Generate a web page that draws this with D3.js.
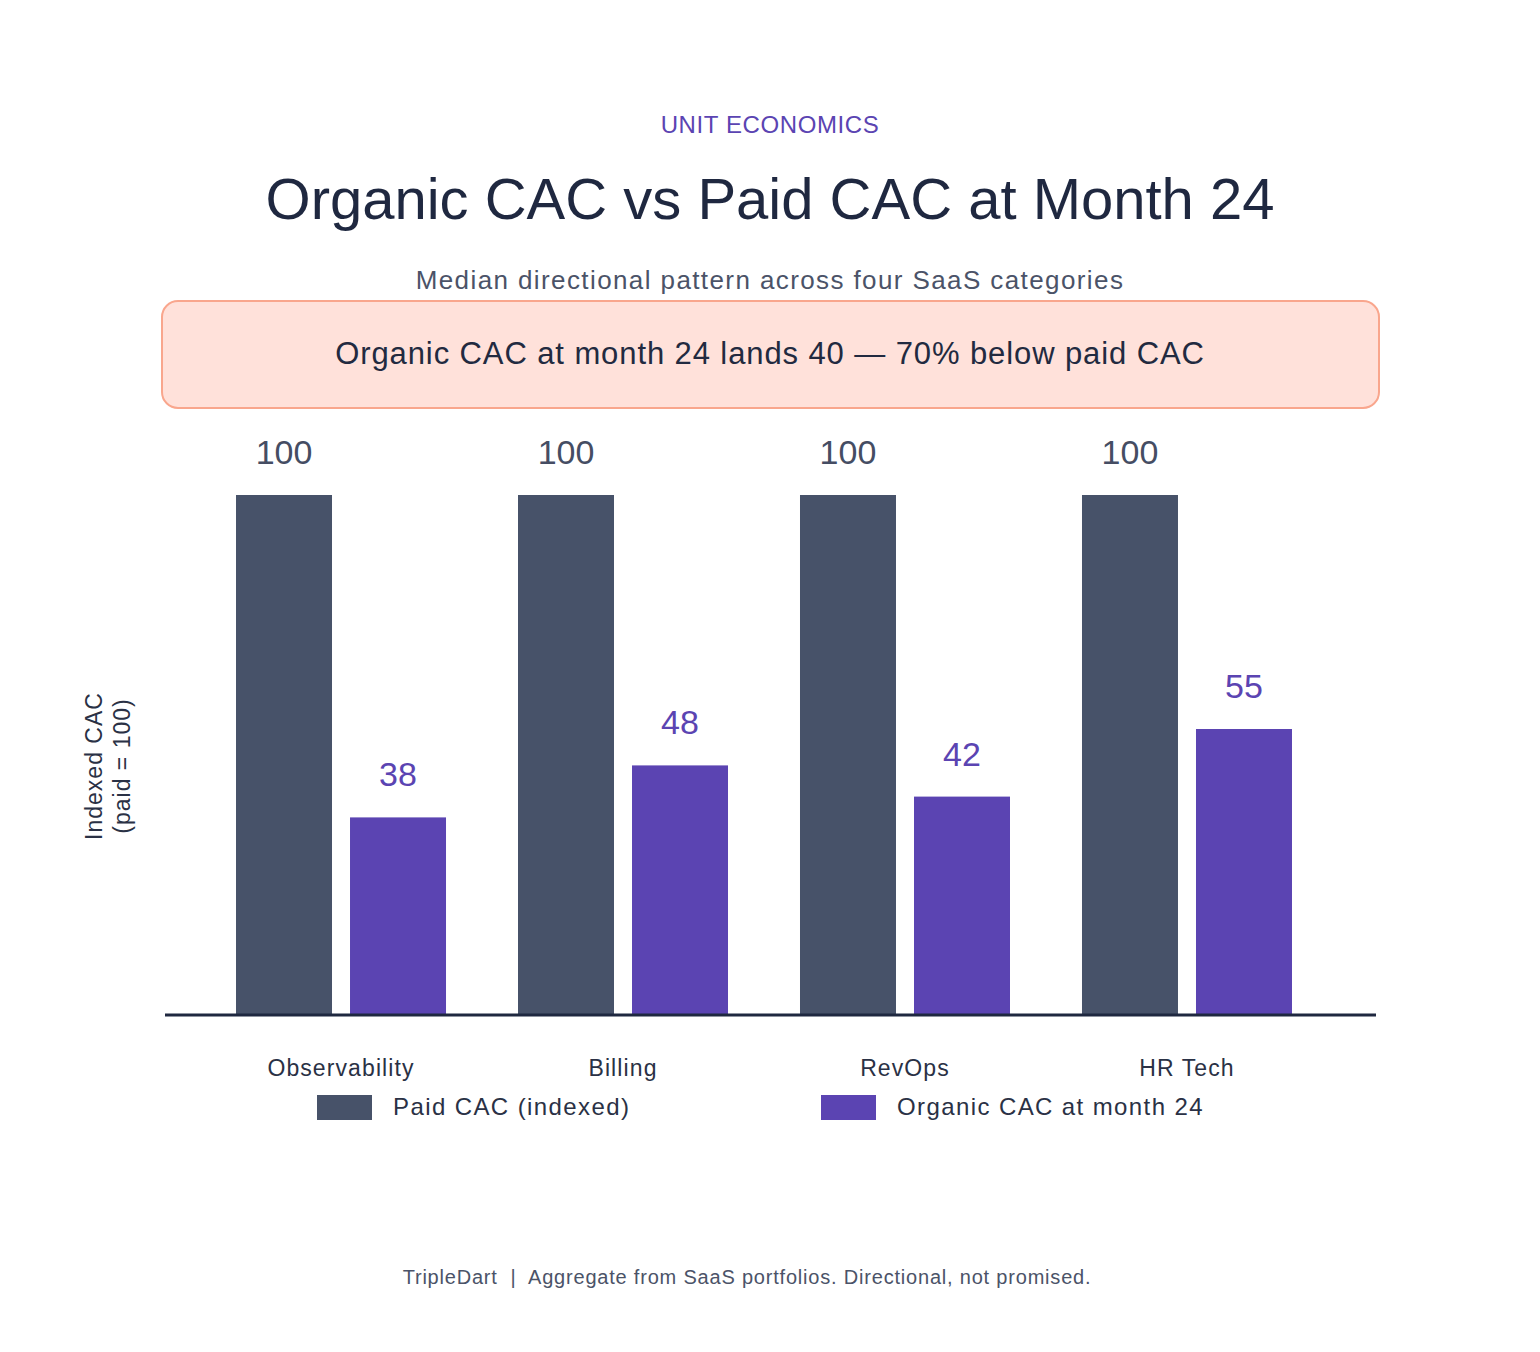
<!DOCTYPE html>
<html>
<head>
<meta charset="utf-8">
<script src="https://cdn.jsdelivr.net/npm/d3@7"></script>
<style>
  html, body { margin: 0; padding: 0; background: #ffffff; }
  svg { display: block; font-family: "Liberation Sans", Arial, Helvetica, sans-serif; }
</style>
</head>
<body>
<svg id="chart" width="1540" height="1352"></svg>
<script>
const categories = ["Observability", "Billing", "RevOps", "HR Tech"];
const seriesNames = ["Paid CAC (indexed)", "Organic CAC at month 24"];
const paidValues = [100, 100, 100, 100];
const organicValues = [38, 48, 42, 55];

const kicker = "UNIT ECONOMICS";
const title = "Organic CAC vs Paid CAC at Month 24";
const subtitle = "Median directional pattern across four SaaS categories";
const callout = "Organic CAC at month 24 lands 40 \u2014 70% below paid CAC";
const yLabelLines = ["Indexed CAC", "(paid = 100)"];
const footer = "TripleDart  |  Aggregate from SaaS portfolios. Directional, not promised.";

const colors = { paid: "#475269", organic: "#5b44b2" };

const svg = d3.select("#chart");

// Header
svg.append("text").attr("x", 770).attr("y", 133).attr("text-anchor", "middle")
  .attr("font-size", 24).attr("letter-spacing", 0.6).attr("fill", "#5b44b2").text(kicker);
svg.append("text").attr("x", 770).attr("y", 219).attr("text-anchor", "middle")
  .attr("font-size", 58).attr("fill", "#1f2840").text(title);
svg.append("text").attr("x", 770).attr("y", 289).attr("text-anchor", "middle")
  .attr("font-size", 26).attr("letter-spacing", 1.4).attr("fill", "#4b5368").text(subtitle);

// Callout
svg.append("rect").attr("x", 162).attr("y", 301).attr("width", 1217).attr("height", 107)
  .attr("rx", 16).attr("fill", "#ffe1da").attr("stroke", "#f9a68d").attr("stroke-width", 2);
svg.append("text").attr("x", 770).attr("y", 364).attr("text-anchor", "middle")
  .attr("font-size", 31).attr("letter-spacing", 0.9).attr("fill", "#222a40").text(callout);

// Scales
const data = categories.map((c, i) => ({ cat: c, values: [paidValues[i], organicValues[i]] }));
const y = d3.scaleLinear().domain([0, 100]).range([1015, 495]);
const x0 = d3.scaleBand().domain(categories).range([200, 1328]).paddingInner(0.2553).paddingOuter(0.1277);
const x1 = d3.scaleBand().domain(seriesNames).range([0, x0.bandwidth()]).paddingInner(0.158);
const color = d3.scaleOrdinal().domain(seriesNames).range([colors.paid, colors.organic]);
const labelColor = d3.scaleOrdinal().domain(seriesNames).range(["#454d63", "#5b44b2"]);

const groups = svg.append("g").selectAll("g").data(data).join("g")
  .attr("transform", d => `translate(${x0(d.cat)},0)`);

groups.selectAll("rect").data(d => d.values.map((v, i) => ({ key: seriesNames[i], v })))
  .join("rect")
  .attr("x", d => x1(d.key)).attr("width", x1.bandwidth())
  .attr("y", d => y(d.v)).attr("height", d => y(0) - y(d.v))
  .attr("fill", d => color(d.key));

groups.selectAll("text.val").data(d => d.values.map((v, i) => ({ key: seriesNames[i], v })))
  .join("text").attr("class", "val")
  .attr("x", d => x1(d.key) + x1.bandwidth() / 2)
  .attr("y", d => y(d.v) - 31)
  .attr("text-anchor", "middle").attr("font-size", 34)
  .attr("fill", d => labelColor(d.key)).text(d => d.v);

// X axis
const xAxis = d3.axisBottom(x0).tickSize(0).tickPadding(0);
const axG = svg.append("g").attr("transform", "translate(0,1015)").call(xAxis);
axG.select(".domain").remove();
axG.selectAll("text").attr("font-size", 23).attr("letter-spacing", 1.1).attr("fill", "#2a3145")
  .attr("font-family", "Liberation Sans, Arial, sans-serif").attr("dy", null).attr("y", 61);
svg.append("line").attr("x1", 165).attr("x2", 1376).attr("y1", 1015).attr("y2", 1015)
  .attr("stroke", "#1f2840").attr("stroke-width", 3);

// Y label
const yl = svg.append("text").attr("transform", "translate(102,766) rotate(-90)")
  .attr("text-anchor", "middle").attr("font-size", 23).attr("letter-spacing", 1)
  .attr("fill", "#2a3145");
yl.selectAll("tspan").data(yLabelLines).join("tspan")
  .attr("x", 0).attr("dy", (d, i) => i === 0 ? 0 : 28).text(d => d);

// Legend
const legendX = [317, 821];
const lg = svg.append("g").selectAll("g").data(seriesNames).join("g")
  .attr("transform", (d, i) => `translate(${legendX[i]},1095)`);
lg.append("rect").attr("width", 55).attr("height", 25).attr("fill", d => color(d));
lg.append("text").attr("x", 76).attr("y", 20).attr("font-size", 24).attr("letter-spacing", 1.4)
  .attr("fill", "#2a3145").text(d => d);

// Footer
svg.append("text").attr("x", 747).attr("y", 1284).attr("text-anchor", "middle")
  .attr("font-size", 20).attr("letter-spacing", 0.8).attr("fill", "#4b5368")
  .style("white-space", "pre").text(footer);
</script>
</body>
</html>
